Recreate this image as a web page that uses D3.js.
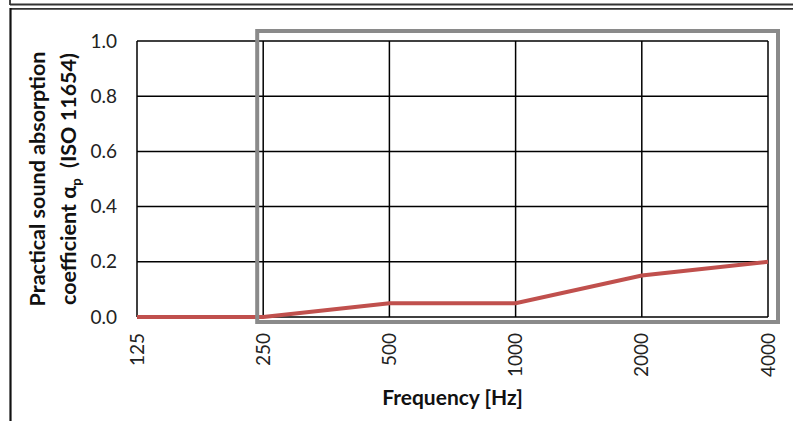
<!DOCTYPE html>
<html>
<head>
<meta charset="utf-8">
<script src="https://cdn.jsdelivr.net/npm/d3@7"></script>
<style>
  html, body { margin: 0; padding: 0; background: #fff; }
  svg { display: block; font-family: Lato, "Open Sans", sans-serif; }
</style>
</head>
<body>
<svg id="chart" width="793" height="421"></svg>
<script>
// data
const frequencies = ["125", "250", "500", "1000", "2000", "4000"];
const alphaP      = [0, 0, 0.05, 0.05, 0.15, 0.20];
const yTicks      = [0, 0.2, 0.4, 0.6, 0.8, 1.0];
const highlightFrom = "250";   // grey box starts at this band

const svg = d3.select("#chart");
const W = 793, H = 421;
const plot = { left: 137, right: 768, top: 41, bottom: 317 };

// outer frame lines (document borders)
svg.append("line").attr("x1", 10).attr("x2", W).attr("y1", 4.5).attr("y2", 4.5)
  .attr("stroke", "#333").attr("stroke-width", 1.8);
svg.append("line").attr("x1", 10).attr("x2", 10).attr("y1", 0).attr("y2", 5)
  .attr("stroke", "#333").attr("stroke-width", 1.8);
svg.append("line").attr("x1", 10).attr("x2", W).attr("y1", 8.8).attr("y2", 8.8)
  .attr("stroke", "#333").attr("stroke-width", 1.8);
svg.append("line").attr("x1", 10.5).attr("x2", 10.5).attr("y1", 8).attr("y2", H)
  .attr("stroke", "#111").attr("stroke-width", 2.2);

const x = d3.scalePoint().domain(frequencies).range([plot.left, plot.right]);
const y = d3.scaleLinear().domain([0, 1]).range([plot.bottom, plot.top]);

const g = svg.append("g");

// gridlines
g.selectAll(".hgrid").data(yTicks).join("line")
  .attr("x1", plot.left).attr("x2", plot.right)
  .attr("y1", d => y(d)).attr("y2", d => y(d))
  .attr("stroke", "#000").attr("stroke-width", 1.5);
g.selectAll(".vgrid").data(frequencies).join("line")
  .attr("x1", d => x(d)).attr("x2", d => x(d))
  .attr("y1", plot.top).attr("y2", plot.bottom)
  .attr("stroke", "#000").attr("stroke-width", 1.5);

// y tick labels
g.selectAll(".ytick").data(yTicks).join("text")
  .attr("x", plot.left - 20)
  .attr("y", d => y(d))
  .attr("dy", "0.35em")
  .attr("text-anchor", "end")
  .style("font-size", "19px")
  .attr("fill", "#222")
  .text(d => d.toFixed(1));

// x tick labels (rotated)
g.selectAll(".xtick").data(frequencies).join("text")
  .attr("transform", d => `translate(${x(d)},${plot.bottom + 16}) rotate(-90)`)
  .attr("dy", "0.35em")
  .attr("text-anchor", "end")
  .style("font-size", "19px")
  .attr("fill", "#222")
  .text(d => d);

// series line
const line = d3.line()
  .x((d, i) => x(frequencies[i]))
  .y(d => y(d));
g.append("path")
  .datum(alphaP)
  .attr("d", line)
  .attr("fill", "none")
  .attr("stroke", "#C0504D")
  .attr("stroke-width", 4);

// grey highlight box
g.append("rect")
  .attr("x", x(highlightFrom) - 6)
  .attr("y", plot.top - 10)
  .attr("width", plot.right + 10 - (x(highlightFrom) - 6))
  .attr("height", plot.bottom + 5 - (plot.top - 10))
  .attr("fill", "none")
  .attr("stroke", "#8a8a8a")
  .attr("stroke-width", 4);

// axis titles
svg.append("text")
  .attr("x", (plot.left + plot.right) / 2)
  .attr("y", 405)
  .attr("text-anchor", "middle")
  .style("font-size", "21px")
  .style("font-weight", "bold")
  .attr("fill", "#111")
  .text("Frequency [Hz]");

const yTitle = svg.append("text")
  .attr("transform", `translate(0,${(plot.top + plot.bottom) / 2}) rotate(-90)`)
  .attr("text-anchor", "middle")
  .style("font-size", "21.5px")
  .style("font-weight", "bold")
  .attr("fill", "#111");
yTitle.append("tspan").attr("x", 0).attr("y", 45).text("Practical sound absorption");
const l2 = yTitle.append("tspan").attr("x", 0).attr("y", 76);
l2.append("tspan").text("coefficient α");
l2.append("tspan").attr("dy", 5).style("font-size", "13px").text("p");
l2.append("tspan").attr("dy", -5).text("  (ISO 11654)").attr("xml:space", "preserve");
</script>
</body>
</html>
